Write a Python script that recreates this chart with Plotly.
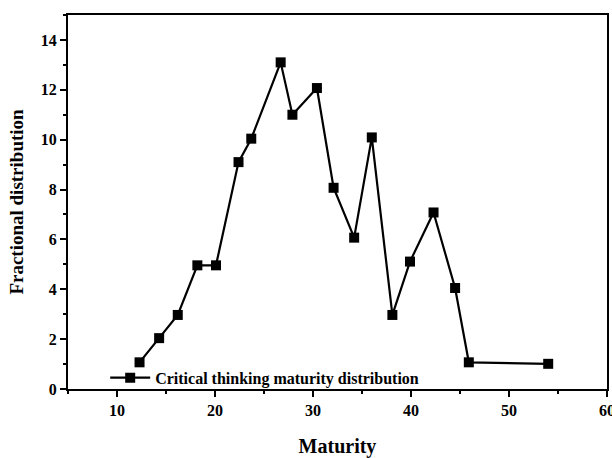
import plotly.graph_objects as go

maturity = [12.3, 14.3, 16.2, 18.2, 20.1, 22.4, 23.7, 26.7, 27.9, 30.4,
            32.1, 34.2, 36.0, 38.1, 39.9, 42.3, 44.5, 45.9, 54.0]
fraction = [1.07, 2.04, 2.97, 4.96, 4.96, 9.1, 10.04, 13.1, 11.0, 12.07,
            8.07, 6.07, 10.09, 2.97, 5.11, 7.08, 4.05, 1.07, 1.01]
series_name = "Critical thinking maturity distribution"

FONT = "Liberation Serif"

fig = go.Figure()
fig.add_trace(go.Scatter(
    x=maturity, y=fraction, mode="lines+markers", name=series_name,
    line=dict(color="black", width=2.2),
    marker=dict(symbol="square", size=10, color="black"),
    showlegend=True,
))

fig.update_layout(
    width=612, height=458,
    margin=dict(l=68, r=5, t=15, b=69),
    paper_bgcolor="white", plot_bgcolor="white",
    font=dict(family=FONT, color="black", size=12, weight="bold"),
    showlegend=True,
    legend=dict(x=0.069, y=0.03, xanchor="left", yanchor="middle",
                bgcolor="rgba(0,0,0,0)", font=dict(family=FONT, size=16, weight="bold"),
                itemwidth=40, borderwidth=0, tracegroupgap=0),
    xaxis=dict(range=[5, 60], dtick=10, tick0=0, showgrid=False, zeroline=False,
               automargin=False, ticklabeloverflow="allow",
               showline=True, linecolor="black", linewidth=2, mirror=True,
               ticks="outside", ticklen=6, tickwidth=1.8, tickcolor="black",
               minor=dict(ticks="outside", ticklen=3, dtick=5, tick0=0, tickcolor="black", tickwidth=1.8),
               tickfont=dict(family=FONT, size=16, weight="bold"),
               title=dict(text="Maturity", font=dict(family=FONT, size=20, weight="bold"), standoff=28)),
    yaxis=dict(range=[0, 15], dtick=2, tick0=0, showgrid=False, zeroline=False,
               automargin=False, ticklabeloverflow="allow",
               showline=True, linecolor="black", linewidth=2, mirror=True,
               ticks="outside", ticklen=6, tickwidth=1.8, tickcolor="black",
               minor=dict(ticks="outside", ticklen=3, dtick=1, tick0=0, tickcolor="black", tickwidth=1.8),
               tickfont=dict(family=FONT, size=16, weight="bold"),
               title=dict(text="Fractional distribution", font=dict(family=FONT, size=19, weight="bold"), standoff=12)),
)

fig.write_html("out.html")
